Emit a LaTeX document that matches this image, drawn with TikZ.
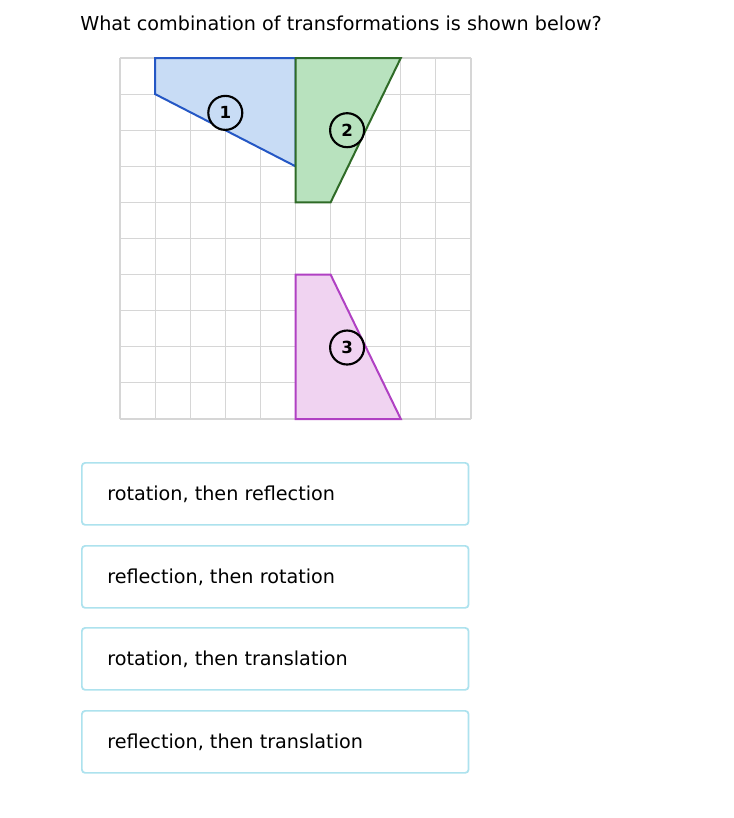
\documentclass[tikz,border=0pt]{standalone}
\usepackage{fontspec}
\setmainfont{DejaVu Sans}
\definecolor{gridgray}{HTML}{D6D6D6}
\definecolor{bluefill}{HTML}{C8DCF5}
\definecolor{bluestroke}{HTML}{2457C5}
\definecolor{greenfill}{HTML}{B8E2BE}
\definecolor{greenstroke}{HTML}{2F6B27}
\definecolor{pinkfill}{HTML}{F0D3F1}
\definecolor{pinkstroke}{HTML}{B041C3}
\definecolor{boxborder}{HTML}{ADE2EE}
\tikzset{
  gridline/.style={draw=gridgray, line width=0.8pt},
  shapeline/.style={line width=1.5pt, line join=miter},
  numcircle/.style={circle, draw=black, line width=1.6pt, minimum size=25.5pt, inner sep=0pt, font=\fontsize{12.5}{12.5}\selectfont\bfseries},
  optbox/.style={draw=boxborder, line width=1.3pt, rounded corners=2.5pt, minimum width=290pt, minimum height=46.5pt, inner sep=0pt},
  opttext/.style={anchor=west, inner sep=0pt, font=\fontsize{14.4}{17}\selectfont},
}
\begin{document}
\begin{tikzpicture}[x=0.75pt,y=-0.75pt]
\fill[white] (0,0) rectangle (734,818);
\useasboundingbox (0,0) rectangle (734,818);
\node[anchor=base west, inner sep=0pt, font=\fontsize{14.4}{17}\selectfont] (title) at (80,30) {What combination of transformations is shown below?};
\begin{scope}[shift={(90pt,-43.5pt)}, x=26.325pt, y=-27.075pt]
  \foreach \i in {0,...,10} {
    \draw[gridline] (\i,0) -- (\i,10);
    \draw[gridline] (0,\i) -- (10,\i);
  }
  \filldraw[shapeline, fill=bluefill, draw=bluestroke] (1,0) -- (5,0) -- (5,3) -- (1,1) -- cycle;
  \filldraw[shapeline, fill=greenfill, draw=greenstroke] (5,0) -- (8,0) -- (6,4) -- (5,4) -- cycle;
  \filldraw[shapeline, fill=pinkfill, draw=pinkstroke] (5,6) -- (6,6) -- (8,10) -- (5,10) -- cycle;
  \node[numcircle, fill=bluefill] (c1) at (3,1.52) {1};
  \node[numcircle, fill=greenfill] (c2) at (6.47,2) {2};
  \node[numcircle, fill=pinkfill] (c3) at (6.47,8.02) {3};
\end{scope}
\node[optbox, anchor=north west] (o1) at (81,462) {};
\node[optbox, anchor=north west] (o2) at (81,545) {};
\node[optbox, anchor=north west] (o3) at (81,627) {};
\node[optbox, anchor=north west] (o4) at (81,710) {};
\node[opttext] (t1) at ([xshift=19.5pt]o1.west) {rotation, then reflection};
\node[opttext] (t2) at ([xshift=19.5pt]o2.west) {reflection, then rotation};
\node[opttext] (t3) at ([xshift=19.5pt]o3.west) {rotation, then translation};
\node[opttext] (t4) at ([xshift=19.5pt]o4.west) {reflection, then translation};
\end{tikzpicture}
\end{document}
